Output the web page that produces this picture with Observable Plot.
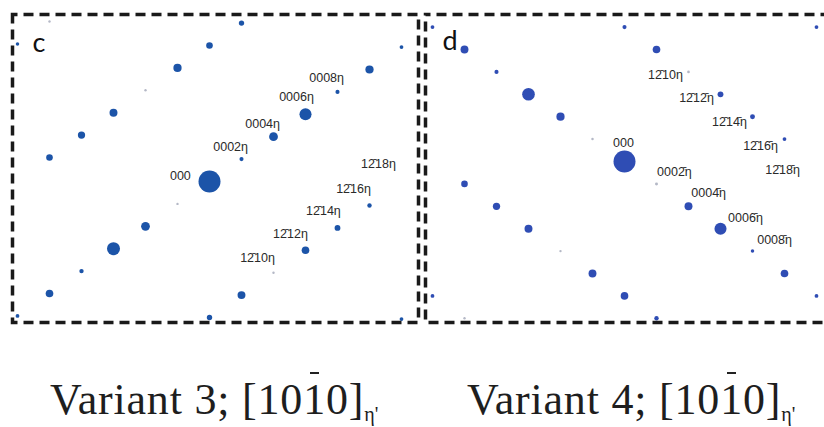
<!DOCTYPE html>
<html><head><meta charset="utf-8">
<script src="https://cdn.jsdelivr.net/npm/d3@7"></script>
<script src="https://cdn.jsdelivr.net/npm/@observablehq/plot@0.6"></script>
<style>
body{margin:0;background:#fff}
#wrap{position:relative;width:824px;height:427px;overflow:hidden;background:#fff}
#pc,#pd{position:absolute;top:0;height:330px}
#pc{left:0;width:421px}
#pd{left:421px;width:420px}
#pc svg,#pd svg{max-width:none !important;display:block}
.cap{position:absolute;top:378px;font-family:"Liberation Serif","Times New Roman",serif;font-size:44px;line-height:44px;letter-spacing:0.8px;color:#1e1e1e;white-space:nowrap}
.cap .sb{font-size:20px;position:relative;top:7px;letter-spacing:0}
.cap .ob{position:relative}
.cap .ob::after{content:"";position:absolute;left:7px;width:9px;top:-3px;height:2px;background:#222}
g[aria-label="hkl"] text{letter-spacing:1px}
</style>
</head><body>
<div id="wrap">
  <div id="pc"></div>
  <div id="pd"></div>
  <div class="cap" style="left:50px">Variant 3; [10<span class="ob">1</span>0]<span class="sb">η'</span></div>
  <div class="cap" style="left:467px">Variant 4; [10<span class="ob">1</span>0]<span class="sb">η'</span></div>
</div>
<script>
// Diffraction spots, x/y in reciprocal-space units relative to the 000 beam, I = relative intensity
const variant3Spots = [
  {x:-6, y:-4.2, I:3}, {x:-5, y:-3.5, I:12}, {x:-4, y:-2.8, I:4}, {x:-3, y:-2.1, I:35},
  {x:-2, y:-1.4, I:16}, {x:-1, y:-0.7, I:1.2}, {x:0, y:0, I:100}, {x:1, y:0.7, I:3.5},
  {x:2, y:1.4, I:16}, {x:3, y:2.1, I:30}, {x:4, y:2.8, I:3.5}, {x:5, y:3.5, I:14}, {x:6, y:4.2, I:3},
  {x:-5, y:0.75, I:9}, {x:-4, y:1.45, I:11}, {x:-3, y:2.15, I:13}, {x:-2, y:2.85, I:1.2},
  {x:-1, y:3.55, I:14}, {x:0, y:4.25, I:9}, {x:1, y:4.95, I:6},
  {x:0, y:-4.25, I:6}, {x:1, y:-3.55, I:13}, {x:2, y:-2.85, I:1.2}, {x:3, y:-2.15, I:12},
  {x:4, y:-1.45, I:7}, {x:5, y:-0.75, I:4},
  {x:-6, y:4.3, I:2.5}, {x:-5, y:5.0, I:1.2}, {x:6, y:-4.3, I:3}
];
const variant4Spots = [
  {x:-6, y:4.2, I:3}, {x:-5, y:3.5, I:13}, {x:-4, y:2.8, I:3.5}, {x:-3, y:2.1, I:33},
  {x:-2, y:1.4, I:14}, {x:-1, y:0.7, I:1.3}, {x:0, y:0, I:100}, {x:1, y:-0.7, I:1.8},
  {x:2, y:-1.4, I:13}, {x:3, y:-2.1, I:30}, {x:4, y:-2.8, I:2.5}, {x:5, y:-3.5, I:12}, {x:6, y:-4.2, I:3},
  {x:-5, y:-0.7, I:9}, {x:-4, y:-1.4, I:11}, {x:-3, y:-2.1, I:13}, {x:-2, y:-2.8, I:1.2},
  {x:-1, y:-3.5, I:13}, {x:0, y:-4.2, I:12}, {x:1, y:-4.9, I:4},
  {x:-6, y:-4.2, I:3}, {x:-5, y:-4.9, I:1.2},
  {x:0, y:4.2, I:3.5}, {x:1, y:3.5, I:12}, {x:2, y:2.8, I:1.5}, {x:3, y:2.1, I:7},
  {x:4, y:1.4, I:5}, {x:5, y:0.7, I:3}, {x:6, y:4.2, I:3}
];
// Index labels (text position in the same units)
const variant3Labels = [
  {x:-0.91, y:0.16, t:"000"},
  {x:0.66, y:1.09, t:"0002η"}, {x:1.66, y:1.81, t:"0004η"}, {x:2.72, y:2.63, t:"0006η"}, {x:3.66, y:3.25, t:"0008η"},
  {x:5.28, y:0.56, t:"12\u030418η"}, {x:4.5, y:-0.22, t:"12\u030416η"}, {x:3.56, y:-0.91, t:"12\u030414η"},
  {x:2.53, y:-1.63, t:"12\u030412η"}, {x:1.5, y:-2.38, t:"12\u030410η"}
];
const variant4Labels = [
  {x:-0.03, y:0.59, t:"000"},
  {x:1.28, y:2.69, t:"12\u030410η"}, {x:2.25, y:1.97, t:"12\u030412\u0304η"}, {x:3.28, y:1.25, t:"12\u030414\u0304η"},
  {x:4.25, y:0.5, t:"12\u030416\u0304η"}, {x:4.94, y:-0.28, t:"12\u030418\u0304η"},
  {x:1.56, y:-0.34, t:"0002\u0304η"}, {x:2.63, y:-0.97, t:"0004\u0304η"}, {x:3.78, y:-1.75, t:"0006\u0304η"}, {x:4.69, y:-2.44, t:"0008\u0304η"}
];
const panelLetters = ["c", "d"];

function panel(spots, labels, letter, color, o) {
  const svg = Plot.plot({
    width: o.width, height: 330,
    marginLeft: o.ml, marginRight: o.mr, marginTop: 14, marginBottom: 8,
    x: {domain: o.xd, axis: null},
    y: {domain: o.yd, axis: null},
    r: {type: "sqrt", domain: [0, 100], range: [0, 11]},
    color: {type: "threshold", domain: [2], range: ["#b4b8c6", color]},
    marks: [
      Plot.dot(spots, {x: "x", y: "y", r: "I", fill: "I", stroke: null}),
      Plot.text(labels, {x: "x", y: "y", text: "t", fontFamily: "Liberation Sans, Arial, sans-serif", fontSize: 12.5, fill: "#2a2a2a", ariaLabel: "hkl"}),
      Plot.text([letter], {frameAnchor: "top-left", textAnchor: "start", lineAnchor: "top", dx: o.ldx, dy: o.ldy, fontSize: 27, fontFamily: "Lato, sans-serif", fill: "#111"}),
      Plot.frame({stroke: "#1a1a1a", strokeWidth: 3.5, strokeDasharray: "10,6", strokeDashoffset: 5})
    ]
  });
  d3.select(svg).selectAll('g[aria-label="hkl"] text').each(function() {
    const t = this.textContent;
    if (t.endsWith("η")) {
      this.textContent = t.slice(0, -1);
      d3.select(this).append("tspan").attr("font-size", "0.9em").attr("dy", "0.3em").text("η");
    }
  });
  return svg;
}

document.getElementById("pc").appendChild(panel(variant3Spots, variant3Labels, panelLetters[0], "#1c54a8",
  {width: 421, ml: 12, mr: 3, xd: [-197/32, 209/32], yd: [-141/32, 167/32], ldx: 20, ldy: 18}));
document.getElementById("pd").appendChild(panel(variant4Spots, variant4Labels, panelLetters[1], "#2f4db4",
  {width: 420, ml: 4, mr: 6, xd: [-199/32, 211/32], yd: [-161/32, 147/32], ldx: 17, ldy: 16}));
</script>
</body></html>
